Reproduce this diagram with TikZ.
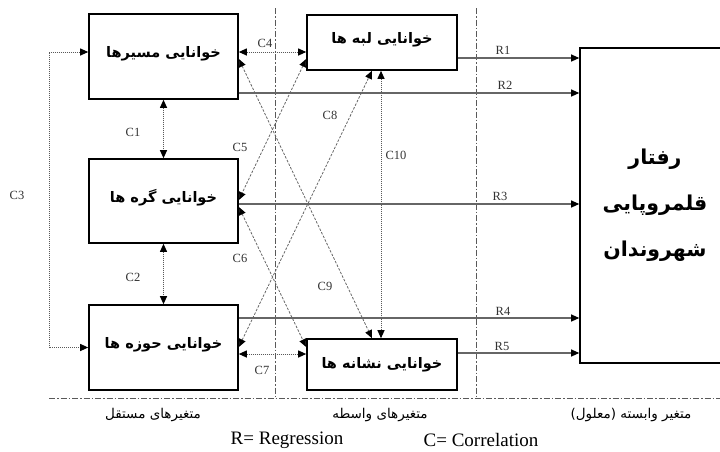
\documentclass[tikz,border=0pt]{standalone}
\usepackage{fontspec}
\setmainfont{Liberation Serif}
\newfontfamily\fa[Script=Arabic]{DejaVu Sans}
\TeXXeTstate=1
\usetikzlibrary{arrows.meta,calc}

\tikzset{every picture/.style={line width=0.75pt}}
\tikzset{
  varbox/.style={draw, line width=1.6pt, inner sep=2pt, align=center,
    font=\fa\bfseries\fontsize{14.5}{17}\selectfont},
  corr/.style={densely dotted, line width=1pt, black!65,
    {Triangle[length=8pt,width=7pt,black]}-{Triangle[length=8pt,width=7pt,black]}},
  corrd/.style={dash pattern=on 2.5pt off 1.5pt, line width=0.8pt, black!60,
    {Triangle[length=8pt,width=7pt,black]}-{Triangle[length=8pt,width=7pt,black]}},
  reg/.style={black!60, line width=1.1pt, -{Triangle[length=8pt,width=7pt,black]}},
  sep/.style={black!65, line width=0.8pt, dash pattern=on 6pt off 2pt on 1.5pt off 2pt},
  lab/.style={inner sep=0.75pt, font=\fontsize{12.5}{14}\selectfont, text=black!80},
  grp/.style={inner sep=0.75pt, font=\fa\fontsize{13.5}{16}\selectfont},
  key/.style={inner sep=0.75pt, font=\fontsize{19}{22}\selectfont}
}
\newcommand{\upper}[1]{\raisebox{10pt}{#1}}

\begin{document}
\begin{tikzpicture}[x=1pt,y=1pt,yscale=-1,xscale=1]
\useasboundingbox (0,0) rectangle (720,451);
\clip (0,0) rectangle (720,451);

%Shapes: Rectangles
\node[varbox, minimum width=149, minimum height=85] (masir) at (163.5,56.5) {\upper{\beginR خوانایی مسیرها\endR}};
\node[varbox, minimum width=149, minimum height=84] (gereh) at (163.5,201) {\upper{\beginR خوانایی گره ها\endR}};
\node[varbox, minimum width=149, minimum height=85] (hozeh) at (163.5,347.5) {\upper{\beginR خوانایی حوزه ها\endR}};
\node[varbox, minimum width=150, minimum height=55] (lebe) at (382,42.5) {\upper{\beginR خوانایی لبه ها\endR}};
\node[varbox, minimum width=150, minimum height=51] (neshane) at (382,364.5) {\beginR خوانایی نشانه ها\endR};
\node[varbox, minimum width=150, minimum height=315, font=\fa\bfseries\fontsize{20.5}{46}\selectfont] (raftar) at (655,205.5)
  {\beginR رفتار\endR\\ \beginR قلمروپایی\endR\\ \beginR شهروندان\endR};

%Separators
\draw[sep] (275,8) -- (275,398);
\draw[sep] (476,8) -- (476,398);
\draw[sep] (49,398) -- (720,398);

% levels of the connectors
\coordinate (yC4) at (0,52);
\coordinate (yDa) at (0,59);
\coordinate (yDb) at (0,200);
\coordinate (yBE) at (0,207);
\coordinate (yCd) at (0,347);
\coordinate (yC7) at (0,354);
\coordinate (xC9) at (372,0);
\coordinate (xC10) at (381,0);
\coordinate (c3turn) at (49,52);

%Regressions
\draw[reg] (lebe.east |- 0,58) -- (raftar.west |- 0,58);
\draw[reg] (masir.east |- 0,93) -- (raftar.west |- 0,93);
\draw[reg] (gereh.east |- 0,204) -- (raftar.west |- 0,204);
\draw[reg] (hozeh.east |- 0,318) -- (raftar.west |- 0,318);
\draw[reg] (neshane.east |- 0,353) -- (raftar.west |- 0,353);

%Correlations
\draw[corr] (masir.south) -- (gereh.north);
\draw[corr] (gereh.south) -- (hozeh.north);
\draw[corr] (c3turn -| masir.west) -- (c3turn) |- (hozeh.west);
\draw[corr] (masir.east |- yC4) -- (lebe.west |- yC4);
\draw[corr] (hozeh.east |- yC7) -- (neshane.west |- yC7);
\draw[corr] (lebe.south -| xC10) -- (neshane.north -| xC10);
\draw[corrd] (lebe.west |- yDa) -- (gereh.east |- yDb);
\draw[corrd] (masir.east |- yDa) -- (neshane.north -| xC9);
\draw[corrd] (gereh.east |- yBE) -- (neshane.west |- yCd);
\draw[corrd] (hozeh.east |- yCd) -- (lebe.south -| xC9);

% Text Node
\node[lab] (lR1) at (503,50) {R1};
\node[lab] (lR2) at (505,85) {R2};
\node[lab] (lR3) at (500,196) {R3};
\node[lab] (lR4) at (503,311) {R4};
\node[lab] (lR5) at (502,346) {R5};
\node[lab] (lC1) at (133,132) {C1};
\node[lab] (lC2) at (133,277) {C2};
\node[lab] (lC3) at (17,195) {C3};
\node[lab] (lC4) at (265,43) {C4};
\node[lab] (lC5) at (240,147) {C5};
\node[lab] (lC6) at (240,258) {C6};
\node[lab] (lC7) at (262,370) {C7};
\node[lab] (lC8) at (330,115) {C8};
\node[lab] (lC9) at (325,286) {C9};
\node[lab] (lC10) at (396,155) {C10};

% Text Node
\node[grp] (gIndep) at (153,415) {\beginR متغیرهای مستقل\endR};
\node[grp] (gMed) at (380,415) {\beginR متغیرهای واسطه\endR};
\node[grp] (gDep) at (631,415) {\beginR متغیر وابسته (معلول)\endR};
\node[key] (kR) at (287,440) {R= Regression};
\node[key] (kC) at (481,440) {C= Correlation};

\end{tikzpicture}
\end{document}
